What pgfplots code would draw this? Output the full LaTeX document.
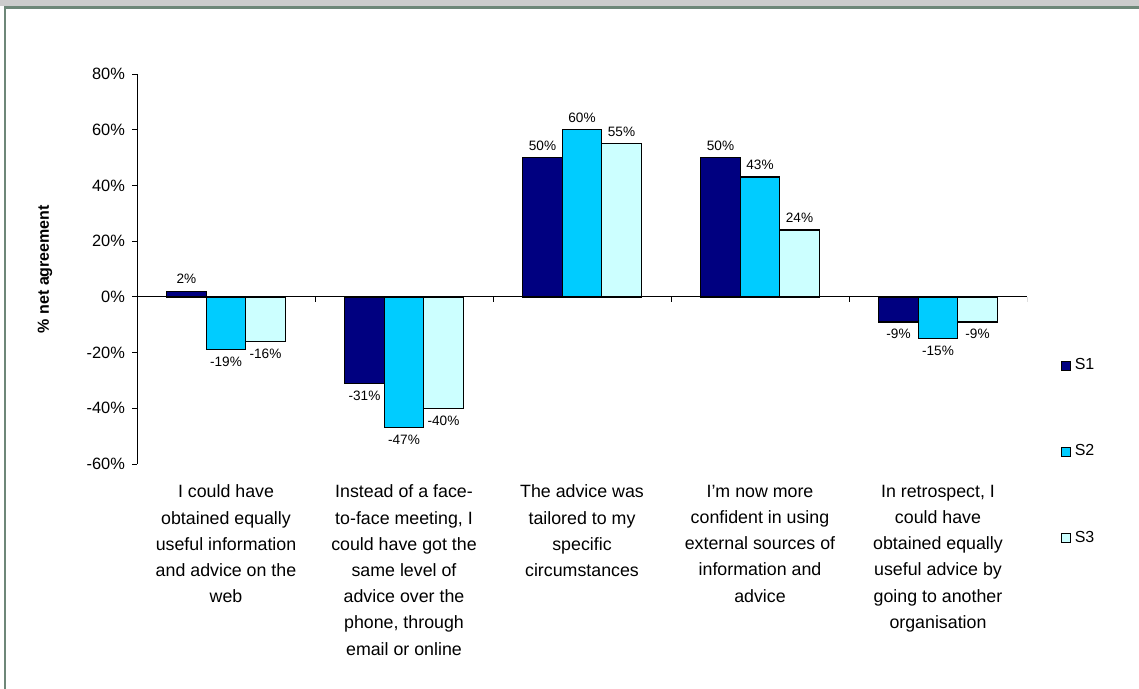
\documentclass[border=0pt]{standalone}
\usepackage{fontspec}
\setmainfont{Liberation Sans}
\usepackage{pgfplots}
\pgfplotsset{compat=1.18}

\definecolor{sone}{RGB}{0,0,128}
\definecolor{stwo}{RGB}{0,204,255}
\definecolor{sthree}{RGB}{204,255,255}
\definecolor{frame}{RGB}{110,135,120}
\definecolor{band}{RGB}{204,204,204}

\begin{document}
\begin{tikzpicture}
  % page: 1px = 0.5pt, origin top left
  \path[use as bounding box] (0,0) rectangle (569.5pt,-344.5pt);
  \fill[band] (0,0) rectangle (569.5pt,-3.2pt);
  \draw[frame, line width=1.2pt] (2.4pt,-344.5pt) -- (2.4pt,-3.8pt) -- (569.5pt,-3.8pt);

  \begin{axis}[
    at={(68.5pt,-232pt)}, anchor=south west,
    scale only axis, width=445pt, height=195pt,
    ybar=0pt, bar width=19.75pt,
    xmin=-0.5, xmax=4.5,
    ymin=-60, ymax=80,
    ytick={-60,-40,...,80},
    yticklabel={\pgfmathprintnumber{\tick}\%},
    /pgf/number format/assume math mode=true,
    axis x line*=bottom, axis y line*=left,
    x axis line style={draw=none},
    y axis line style={-, black, line width=0.5pt},
    xtick={0,1,2,3,4},
    xtick style={draw=none},
    ytick style={black, line width=0.5pt},
    tick align=outside,
    major tick length=2.5pt,
    extra y ticks={0}, extra y tick labels={},
    extra y tick style={grid=major, major grid style={black, line width=0.5pt}},
    xticklabels={
      {I could have\\obtained equally\\useful information\\and advice on the\\web},
      {Instead of a face-\\to-face meeting, I\\could have got the\\same level of\\advice over the\\phone, through\\email or online},
      {The advice was\\tailored to my\\specific\\circumstances},
      {I’m now more\\confident in using\\external sources of\\information and\\advice},
      {In retrospect, I\\could have\\obtained equally\\useful advice by\\going to another\\organisation}},
    xticklabel style={align=center, font=\fontsize{8.9}{13.1}\selectfont, yshift=-4.5pt},
    yticklabel style={font=\fontsize{8.2}{10}\selectfont},
    ylabel={\% net agreement},
    every axis y label/.style={at={(axis description cs:0,0.5)}, xshift=-46pt, rotate=90, anchor=center, font=\fontsize{8}{10}\selectfont\bfseries},
    nodes near coords={\pgfmathprintnumber{\pgfplotspointmeta}\%},
    every node near coord/.append style={font=\fontsize{6.8}{8}\selectfont, black},
    legend style={at={(1.031,0.031)}, anchor=west, draw=none, fill=none,
      font=\fontsize{8}{10}\selectfont, row sep=32pt},
    legend image code/.code={\draw[#1, draw=black, line width=0.5pt] (0pt,-2.2pt) rectangle (4.4pt,2.2pt);},
    legend cell align=left,
  ]
    \addplot[fill=sone, draw=black, line width=0.7pt] coordinates {(0,2) (1,-31) (2,50) (3,50) (4,-9)};
    \addplot[fill=stwo, draw=black, line width=0.7pt] coordinates {(0,-19) (1,-47) (2,60) (3,43) (4,-15)};
    \addplot[fill=sthree, draw=black, line width=0.7pt] coordinates {(0,-16) (1,-40) (2,55) (3,24) (4,-9)};
    \legend{S1,S2,S3}
    \pgfplotsinvokeforeach{-0.5,0.5,1.5,2.5,3.5,4.5}{
      \draw[black, line width=0.5pt] (axis cs:#1,0) -- ([yshift=-2.5pt]axis cs:#1,0);
    }
  \end{axis}
\end{tikzpicture}
\end{document}
